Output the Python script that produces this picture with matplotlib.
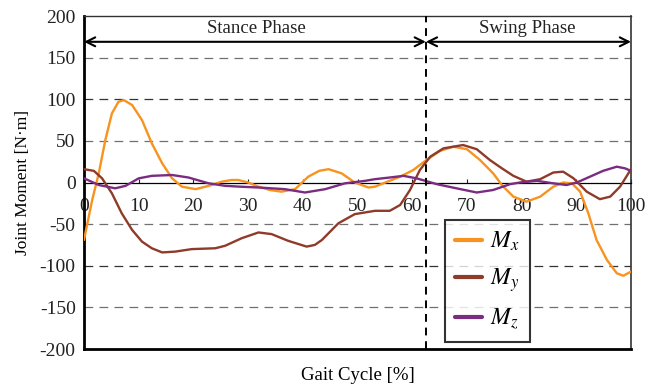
import matplotlib
matplotlib.use("Agg")
import matplotlib.pyplot as plt

plt.rcParams['font.family'] = ['Liberation Serif', 'DejaVu Serif']
plt.rcParams['mathtext.fontset'] = 'stix'
plt.rcParams['axes.unicode_minus'] = False

mx_gait = [0, 1.5, 2.7, 3.9, 5.1, 6.3, 7.3, 8.8, 10.6, 12.4, 14.3, 16.1, 17.9, 20.4, 22.8, 25.2, 27,
           28.2, 30, 31.9, 34, 36.1, 38.6, 41, 43, 44.7, 47.1, 49.5, 52, 53.2, 54.7, 57.8, 60.2,
           62.6, 65.1, 67.5, 70, 72.4, 74.8, 76.5, 78.5, 80.9, 83.4, 85.8, 87.6, 89.2, 90.7, 92.2,
           93.7, 95.6, 97.4, 98.6, 100]
mx = [-69, -21, 11, 51, 83, 97, 99, 93, 75, 47, 23, 5, -5, -8, -4, 1, 3,
      3, 0, -5, -9, -11, -8, 7, 14, 16, 11, 0, -6, -5, -1, 7, 15,
      27, 38, 43, 40, 27, 11, -4, -17, -23, -17, -5, 0, -1, -11, -37,
      -69, -93, -109, -112, -107]

my_gait = [0, 1.8, 3.3, 5.1, 6.9, 8.8, 10.6, 12.4, 14.3, 16.7, 19.7, 24, 25.8, 28.8, 31.9, 34.3,
           37.3, 40.7, 42.2, 43.5, 45, 46.5, 49.5, 53.2, 55.9, 57.8, 59.6, 61.4, 63.3, 65.7, 69.3, 71.8,
           74.2, 76.4, 78.5, 80.9, 83.4, 85.8, 87.6, 89.5, 91.9, 94.3, 96.2, 98, 100]
my = [16, 14, 5, -13, -37, -57, -71, -79, -84, -83, -80, -79, -76, -67, -60, -62,
      -70, -77, -75, -69, -59, -49, -38, -34, -34, -27, -9, 15, 31, 41, 45, 40,
      27, 17, 8, 1, 4, 12, 13, 5, -11, -20, -17, -5, 16]

mz_gait = [0, 2.7, 5.7, 7.6, 10, 12.4, 16.1, 19.1, 22.8, 25.8, 28.5, 31.9, 36.7, 40.4, 44.1,
           47.7, 51.4, 53.2, 55.9, 58.4, 60.8, 64.5, 68.1, 71.8, 74.8, 77.9, 79.7, 82.8, 85.8,
           88.2, 90.1, 92.5, 94.9, 97.4, 98.9, 100]
mz = [5, -3, -7, -4, 5, 8, 9, 6, -1, -4, -5, -6, -8, -12, -8,
      -1, 2, 4, 6, 8, 5, -2, -7, -12, -9, -2, 0, 2, -1,
      -3, 0, 7, 14, 19, 17, 14]

labels = ['$M_x$', '$M_y$', '$M_z$']
colors = ['#F7931E', '#8E3B2A', '#7A2C80']
xticks = list(range(0, 101, 10))
yticks = list(range(-200, 201, 50))
phase_split = 62.5
phases = ['Stance Phase', 'Swing Phase']

fig = plt.figure(figsize=(6.57, 3.9), dpi=100)
ax = fig.add_axes([84/657, 41/390, 547/657, 333/390])

for y in [-150, -100, -50, 50, 100, 150]:
    c = '#333333' if abs(y) == 100 else '#707070'
    ax.axhline(y, color=c, lw=0.9, dashes=(7, 5), zorder=1)

for gx, vals, lab, col in zip([mx_gait, my_gait, mz_gait], [mx, my, mz], labels, colors):
    ax.plot(gx, vals, color=col, lw=1.7, label=lab, zorder=3,
            solid_joinstyle='round', solid_capstyle='round')

ax.set_xlim(0, 100)
ax.set_ylim(-200, 200)
ax.set_xticks(xticks)
ax.set_yticks(yticks)

ax.spines['bottom'].set_position(('data', 0))
ax.spines['bottom'].set_linewidth(0.9)
ax.spines['left'].set_linewidth(2.0)
ax.spines['top'].set_linewidth(1.0)
ax.spines['right'].set_linewidth(1.2)
ax.spines['top'].set_color('#333333')
ax.spines['right'].set_color('#333333')
ax.plot([0, 1], [0, 0], transform=ax.transAxes, color='black', lw=2.0, clip_on=False, zorder=5)

ax.tick_params(axis='x', direction='in', length=3, width=0.8, pad=11, labelsize=14, colors='#222222')
ax.tick_params(axis='y', length=0, pad=6, labelsize=14, colors='#222222')

ax.axvline(phase_split, color='black', lw=1.4, dashes=(4, 3), zorder=4)

arrow_y = 169
ax.annotate('', xy=(0, arrow_y), xytext=(phase_split, arrow_y),
            arrowprops=dict(arrowstyle='<->', lw=1.5, color='black', mutation_scale=16,
                            shrinkA=0, shrinkB=0))
ax.annotate('', xy=(phase_split, arrow_y), xytext=(100, arrow_y),
            arrowprops=dict(arrowstyle='<->', lw=1.5, color='black', mutation_scale=16,
                            shrinkA=0, shrinkB=0))
ax.text(31.6, 185, phases[0], ha='center', va='center', fontsize=13.5, color='#222222')
ax.text(81, 185, phases[1], ha='center', va='center', fontsize=13.5, color='#222222')

ax.set_ylabel('Joint Moment [N·m]', fontsize=12.5, labelpad=6)
ax.set_xlabel('Gait Cycle [%]', fontsize=13.5, va='center')
ax.xaxis.set_label_coords(0.5, -0.08)

leg = ax.legend(loc='upper left', bbox_to_anchor=(0.66, 0.387), borderaxespad=0,
                fontsize=17, frameon=True, fancybox=False, edgecolor='black',
                handlelength=1.15, labelspacing=0.55, borderpad=0.42, handletextpad=0.35)
leg.get_frame().set_linewidth(1.5)
for h in leg.legend_handles:
    h.set_linewidth(3)

fig.savefig('out.png', dpi=100)
